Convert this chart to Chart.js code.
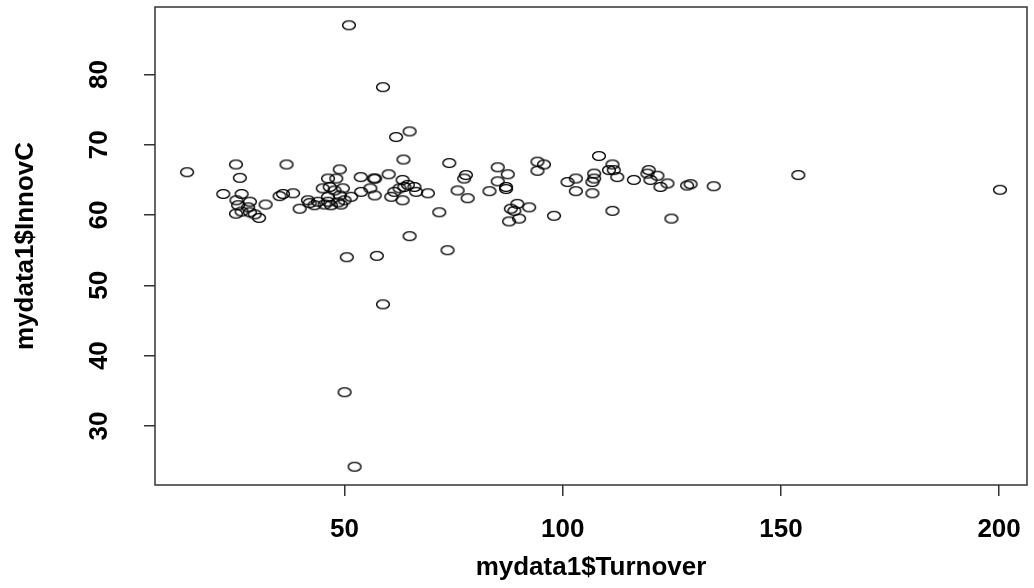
<!DOCTYPE html>
<html>
<head>
<meta charset="utf-8">
<script src="https://cdn.jsdelivr.net/npm/chart.js@4/dist/chart.umd.min.js"></script>
<style>
  body { margin: 0; background: #fff; }
</style>
</head>
<body>
<canvas id="scatter" width="1034" height="588"></canvas>
<script>
// turnover (x) and innovC (y)
const turnover = [
  13.9, 25.1, 26.0, 22.2, 26.4, 25.2, 25.6, 28.3, 25.1, 28.3, 29.4, 30.4, 26.4, 27.9, 31.9,
  35.1, 35.9, 36.7, 38.2, 39.7, 41.6, 42.0, 43.1, 43.9, 45.4, 46.2, 46.9, 48.5, 49.2, 45.0,
  46.6, 47.7, 49.6, 46.2, 48.1, 48.9, 46.2, 48.9, 51.5, 50.0, 53.8, 53.7, 56.7, 57.0, 55.9,
  56.9, 60.1, 61.8, 64.9, 63.5, 61.4, 62.6, 63.3, 63.7, 64.5, 66.0, 66.4, 69.1, 63.3, 74.0,
  77.8, 77.4, 75.9, 78.2, 71.7, 64.9, 85.1, 87.4, 85.1, 87.0, 87.0, 83.2, 89.6, 88.1, 88.9,
  92.3, 90.0, 87.7, 94.2, 95.7, 94.2, 98.0, 108.3, 101.1, 103.0, 103.0, 107.2, 107.2, 106.8, 106.8,
  111.4, 111.7, 112.5, 110.6, 111.4, 116.3, 119.7, 119.4, 121.7, 120.1, 124.0, 122.4, 128.5, 129.3, 134.6,
  124.9, 154.0, 200.2, 51.0, 58.8, 50.5, 57.4, 73.6, 58.8, 50.0, 52.3, 60.7
];
const innovC = [
  66.1, 67.2, 65.3, 63.0, 63.0, 62.1, 61.4, 61.9, 60.2, 60.4, 60.1, 59.6, 60.5, 61.1, 61.5,
  62.7, 63.0, 67.2, 63.1, 60.9, 62.1, 61.7, 61.4, 61.9, 61.5, 61.9, 61.4, 61.8, 61.5, 63.8,
  64.0, 63.5, 63.8, 65.2, 65.2, 66.5, 62.6, 62.8, 62.6, 62.1, 63.3, 65.4, 65.2, 65.2, 63.8,
  62.8, 65.8, 71.1, 71.9, 67.9, 63.3, 63.8, 65.0, 64.0, 64.3, 64.0, 63.3, 63.1, 62.1, 67.4,
  65.7, 65.2, 63.5, 62.4, 60.4, 57.0, 66.8, 65.8, 64.8, 64.0, 63.7, 63.4, 61.6, 60.9, 60.6,
  61.1, 59.5, 59.1, 67.6, 67.2, 66.3, 59.9, 68.4, 64.7, 65.2, 63.4, 65.9, 65.2, 64.7, 63.1,
  67.2, 66.4, 65.4, 66.4, 60.6, 65.0, 66.4, 65.9, 65.6, 65.0, 64.5, 64.0, 64.2, 64.4, 64.1,
  59.5, 65.7, 63.6, 87.0, 78.2, 54.0, 54.2, 55.0, 47.3, 34.8, 24.2, 62.6
];
const xTicks = [50, 100, 150, 200];
const yTicks = [30, 40, 50, 60, 70, 80];
const xLimits = [6.55, 206.4];
const yLimits = [21.6, 89.6];
const xTitle = 'mydata1$Turnover';
const yTitle = 'mydata1$InnovC';

// open ellipse marker like pch = 1 on the stretched picture
const marker = document.createElement('canvas');
marker.width = 16;
marker.height = 12;
const mctx = marker.getContext('2d');
mctx.strokeStyle = '#000';
mctx.lineWidth = 1.4;
mctx.beginPath();
mctx.ellipse(8, 6, 6.4, 4.4, 0, 0, Math.PI * 2);
mctx.stroke();

const font = { family: '"Liberation Sans", Arial, sans-serif', size: 26, weight: 'bold' };

const rFrame = {
  id: 'rFrame',
  afterDraw(chart) {
    const { ctx, chartArea: a, scales } = chart;
    ctx.save();
    ctx.strokeStyle = '#333';
    ctx.lineWidth = 1.5;
    ctx.strokeRect(a.left, a.top, a.right - a.left, a.bottom - a.top);
    // y tick labels, rotated like R's las = 0
    ctx.fillStyle = '#000';
    ctx.font = `bold ${font.size}px ${font.family}`;
    ctx.textAlign = 'center';
    ctx.textBaseline = 'middle';
    scales.y.ticks.forEach(t => {
      const py = scales.y.getPixelForValue(t.value);
      ctx.save();
      ctx.translate(100, py);
      ctx.rotate(-Math.PI / 2);
      ctx.fillText(String(t.value), 0, 0);
      ctx.restore();
    });
    ctx.restore();
  }
};

new Chart(document.getElementById('scatter'), {
  type: 'scatter',
  data: {
    datasets: [{
      data: turnover.map((x, i) => ({ x: x, y: innovC[i] })),
      pointStyle: marker,
      pointRadius: 6,
      pointHoverRadius: 6
    }]
  },
  options: {
    responsive: false,
    animation: false,
    layout: { padding: { top: 7, right: -2, left: 0, bottom: 0 } },
    plugins: {
      legend: { display: false },
      tooltip: { enabled: false }
    },
    scales: {
      x: {
        type: 'linear',
        min: xLimits[0],
        max: xLimits[1],
        afterBuildTicks: s => { s.ticks = xTicks.map(v => ({ value: v })); },
        afterFit: s => { s.height = 103; s.paddingRight = 0; s.paddingLeft = 0; },
        grid: { drawOnChartArea: false, drawTicks: true, tickLength: 11, color: '#333', lineWidth: 1.5 },
        border: { display: false },
        ticks: { color: '#000', font: font, padding: 18, maxRotation: 0 },
        title: { display: true, text: xTitle, color: '#000', font: font, padding: { top: 0, bottom: 5 } }
      },
      y: {
        type: 'linear',
        min: yLimits[0],
        max: yLimits[1],
        afterBuildTicks: s => { s.ticks = yTicks.map(v => ({ value: v })); },
        afterFit: s => { s.width = 155; s.paddingTop = 0; s.paddingBottom = 0; },
        grid: { drawOnChartArea: false, drawTicks: true, tickLength: 11, color: '#333', lineWidth: 1.5 },
        border: { display: false },
        ticks: { display: false },
        title: { display: true, text: yTitle, color: '#000', font: font, padding: { top: 10, bottom: 0 } }
      }
    }
  },
  plugins: [rFrame]
});
</script>
</body>
</html>
